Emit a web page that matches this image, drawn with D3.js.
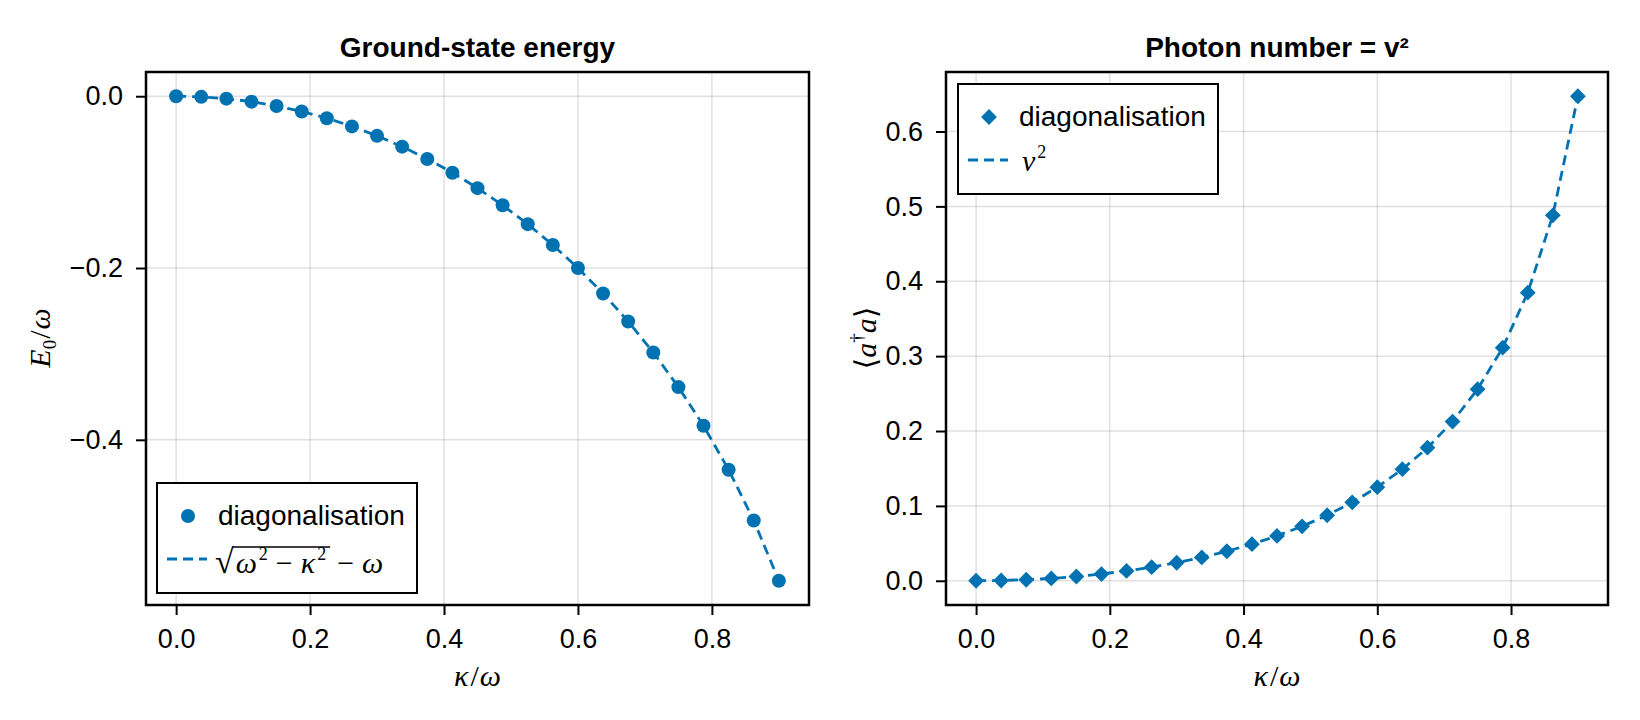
<!DOCTYPE html>
<meta charset="utf-8">
<head>
  <script src="https://d3js.org/d3.v7.min.js"></script>
  <style>
    body { margin: 0; background: #fff; }
    text { font-family: "Liberation Sans", Arial, sans-serif; fill: #000; }
    text.math { font-family: "Liberation Serif", "DejaVu Serif", serif; }
  </style>
</head>
<body>
  <div id="my_dataviz"></div>
</body>
<script>

// coupling kappa/omega (x values, shared by both panels)
var kappa = [0, 0.0375, 0.075, 0.1125, 0.15, 0.1875, 0.225, 0.2625, 0.3, 0.3375, 0.375, 0.4125,
  0.45, 0.4875, 0.525, 0.5625, 0.6, 0.6375, 0.675, 0.7125, 0.75, 0.7875, 0.825, 0.8625, 0.9];

// ground state energy E0/omega
var groundEnergy = [0, -0.0007, -0.0028, -0.0063, -0.0113, -0.0177, -0.0256, -0.0351, -0.0461,
  -0.0587, -0.0730, -0.0890, -0.1070, -0.1269, -0.1489, -0.1732, -0.2000, -0.2296, -0.2622,
  -0.2983, -0.3386, -0.3837, -0.4349, -0.4939, -0.5641];

// photon number <a+a>
var photonNumber = [0, 0.0004, 0.0014, 0.0032, 0.0057, 0.0090, 0.0132, 0.0182, 0.0241, 0.0312,
  0.0394, 0.0489, 0.0599, 0.0727, 0.0875, 0.1047, 0.1250, 0.1490, 0.1777, 0.2126, 0.2559,
  0.3113, 0.3847, 0.4880, 0.6471];

var xTickValues = [0, 0.2, 0.4, 0.6, 0.8];
var energyTickValues = [0, -0.2, -0.4];
var photonTickValues = [0, 0.1, 0.2, 0.3, 0.4, 0.5, 0.6];
var titles = ["Ground-state energy", "Photon number = v\u00b2"];
var scatterLabel = "diagonalisation";

var blue = "#0072b2";
var fontSize = 27;

var svg = d3.select("#my_dataviz")
  .append("svg")
  .attr("width", 1640)
  .attr("height", 720);

// makie style limits: data extent plus 5% each side
function padded(values) {
  var ext = d3.extent(values), pad = (ext[1] - ext[0]) * 0.05;
  return [ext[0] - pad, ext[1] + pad];
}

// lay out a run of math text pieces one after another, returns end x
function mathRun(g, x, y, parts) {
  parts.forEach(function (p) {
    x += (p.pre || 0);
    var t = g.append("text").attr("class", "math")
      .attr("x", x)
      .attr("y", y + (p.dy || 0))
      .attr("font-size", p.size || 30)
      .attr("font-style", p.italic ? "italic" : "normal")
      .text(p.t);
    x += t.node().getComputedTextLength() + (p.space || 0);
  });
  return x;
}

// rotated, centred math label
function rotatedMath(cx, cy, parts) {
  var outer = svg.append("g").attr("transform", "translate(" + cx + "," + cy + ") rotate(-90)");
  var inner = outer.append("g");
  var w = mathRun(inner, 0, 0, parts);
  inner.attr("transform", "translate(" + (-w / 2) + ",10)");
}

function centredMath(cx, y, parts) {
  var g = svg.append("g");
  var w = mathRun(g, 0, 0, parts);
  g.attr("transform", "translate(" + (cx - w / 2) + "," + y + ")");
}

function drawPanel(p) {
  var x = d3.scaleLinear().domain(padded(kappa)).range([p.left, p.right]);
  var y = d3.scaleLinear().domain(padded(p.values)).range([605, 72]);
  var g = svg.append("g");

  // grid
  g.selectAll(".vgrid").data(xTickValues).enter().append("line")
    .attr("x1", function (d) { return x(d); }).attr("x2", function (d) { return x(d); })
    .attr("y1", 72).attr("y2", 605)
    .attr("stroke", "#000").attr("stroke-opacity", 0.12).attr("stroke-width", 1.5);
  g.selectAll(".hgrid").data(p.ticks).enter().append("line")
    .attr("x1", p.left).attr("x2", p.right)
    .attr("y1", function (d) { return y(d); }).attr("y2", function (d) { return y(d); })
    .attr("stroke", "#000").attr("stroke-opacity", 0.12).attr("stroke-width", 1.5);

  // markers
  if (p.marker == "circle") {
    g.selectAll(".pt").data(p.values).enter().append("circle")
      .attr("cx", function (d, i) { return x(kappa[i]); })
      .attr("cy", function (d) { return y(d); })
      .attr("r", 7)
      .attr("fill", blue);
  } else {
    g.selectAll(".pt").data(p.values).enter().append("path")
      .attr("d", d3.symbol().type(d3.symbolSquare).size(125))
      .attr("transform", function (d, i) { return "translate(" + x(kappa[i]) + "," + y(d) + ") rotate(45)"; })
      .attr("fill", blue);
  }

  // dashed analytic line
  var line = d3.line()
    .x(function (d, i) { return x(kappa[i]); })
    .y(function (d) { return y(d); });
  g.append("path")
    .datum(p.values)
    .attr("d", line)
    .attr("fill", "none")
    .attr("stroke", blue)
    .attr("stroke-width", 2.8)
    .attr("stroke-dasharray", "10,6");

  // axes
  var xAxis = g.append("g")
    .attr("transform", "translate(0,605)")
    .call(d3.axisBottom(x).tickValues(xTickValues).tickFormat(d3.format(".1f")).tickSize(10).tickPadding(14));
  var yAxis = g.append("g")
    .attr("transform", "translate(" + p.left + ",0)")
    .call(d3.axisLeft(y).tickValues(p.ticks).tickFormat(d3.format(".1f")).tickSize(10).tickPadding(13));
  [xAxis, yAxis].forEach(function (a) {
    a.select(".domain").remove();
    a.selectAll("line").attr("stroke", "#000").attr("stroke-width", 2);
    a.selectAll("text").attr("font-size", fontSize).attr("font-family", "Liberation Sans, Arial, sans-serif").attr("fill", "#000");
  });

  // frame
  g.append("rect")
    .attr("x", p.left).attr("y", 72)
    .attr("width", p.right - p.left).attr("height", 605 - 72)
    .attr("fill", "none").attr("stroke", "#000").attr("stroke-width", 2.5);

  // title
  g.append("text")
    .attr("x", (p.left + p.right) / 2)
    .attr("y", 57)
    .attr("text-anchor", "middle")
    .attr("font-size", 28)
    .attr("font-weight", "bold")
    .text(p.title);

  // x label
  centredMath((p.left + p.right) / 2, 686, [
    { t: "\u03ba", italic: true }, { t: "/", pre: 2 }, { t: "\u03c9", italic: true, pre: 1 }
  ]);

  // legend box
  var lg = g.append("g").attr("transform", "translate(" + p.legendX + "," + p.legendY + ")");
  lg.append("rect")
    .attr("width", 260).attr("height", 110)
    .attr("fill", "#fff").attr("stroke", "#000").attr("stroke-width", 2);
  if (p.marker == "circle") {
    lg.append("circle").attr("cx", 31).attr("cy", 33).attr("r", 7).attr("fill", blue);
  } else {
    lg.append("path")
      .attr("d", d3.symbol().type(d3.symbolSquare).size(125))
      .attr("transform", "translate(31,33) rotate(45)")
      .attr("fill", blue);
  }
  lg.append("text")
    .attr("x", 61).attr("y", 42)
    .attr("font-size", 28)
    .text(scatterLabel);
  lg.append("line")
    .attr("x1", 10).attr("x2", 50).attr("y1", 76).attr("y2", 76)
    .attr("stroke", blue).attr("stroke-width", 2.8).attr("stroke-dasharray", "10,6");

  return lg;
}

var leftLegend = drawPanel({
  left: 146, right: 809, values: groundEnergy, ticks: energyTickValues,
  marker: "circle", title: titles[0], legendX: 157, legendY: 483
});
var rightLegend = drawPanel({
  left: 946, right: 1608, values: photonNumber, ticks: photonTickValues,
  marker: "diamond", title: titles[1], legendX: 958, legendY: 84
});

// legend math: sqrt(w^2 - k^2) - w
var sqrtStart = mathRun(leftLegend, 58, 90, [{ t: "\u221a", size: 34 }]);
var sqrtEnd = mathRun(leftLegend, sqrtStart + 2, 90, [
  { t: "\u03c9", italic: true }, { t: "2", size: 18, dy: -13, pre: 2 },
  { t: "\u2212", pre: 8 }, { t: "\u03ba", italic: true, pre: 8 }, { t: "2", size: 18, dy: -13, pre: 2, space: 4 }
]);
leftLegend.append("line")
  .attr("x1", sqrtStart - 1).attr("x2", sqrtEnd)
  .attr("y1", 64).attr("y2", 64)
  .attr("stroke", "#000").attr("stroke-width", 1.6);
mathRun(leftLegend, sqrtEnd, 90, [{ t: "\u2212", pre: 7 }, { t: "\u03c9", italic: true, pre: 8 }]);

// legend math: v^2
mathRun(rightLegend, 64, 87, [{ t: "v", italic: true }, { t: "2", size: 18, dy: -13, pre: 2 }]);

// y labels
rotatedMath(40, 338, [
  { t: "E", italic: true }, { t: "0", size: 19, dy: 6 }, { t: "/", pre: 1 }, { t: "\u03c9", italic: true, pre: 1 }
]);
rotatedMath(866, 338, [
  { t: "\u27e8" }, { t: "a", italic: true }, { t: "\u2020", size: 19, dy: -13 },
  { t: "a", italic: true }, { t: "\u27e9" }
]);

</script>
